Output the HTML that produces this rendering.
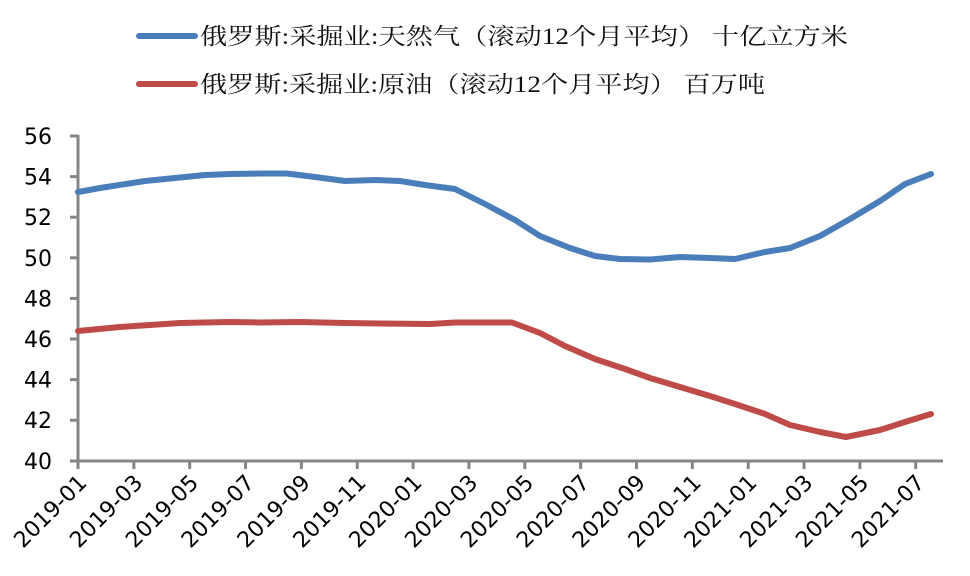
<!DOCTYPE html>
<html><head><meta charset="utf-8"><style>
html,body{margin:0;padding:0;background:#fff;}
svg{display:block;}
.t{font-family:"DejaVu Sans","Liberation Sans",sans-serif;font-size:22px;fill:#000;}
.lg{font-family:"Liberation Serif","Noto Serif CJK SC",serif;font-size:23px;fill:#111;}
</style></head><body>
<svg width="970" height="576" viewBox="0 0 970 576">
<rect width="970" height="576" fill="#fff"/>
<line x1="139" y1="36" x2="195" y2="36" stroke="#4a7ebb" stroke-width="6" stroke-linecap="round"/>
<text class="lg" x="200" y="44" textLength="648" lengthAdjust="spacingAndGlyphs">俄罗斯:采掘业:天然气（滚动12个月平均） 十亿立方米</text>
<line x1="139" y1="84" x2="195" y2="84" stroke="#be4b48" stroke-width="6" stroke-linecap="round"/>
<text class="lg" x="200" y="92" textLength="565" lengthAdjust="spacingAndGlyphs">俄罗斯:采掘业:原油（滚动12个月平均） 百万吨</text>
<g stroke="#868686" stroke-width="3" fill="none">
<line x1="78" y1="135" x2="78" y2="461"/>
<line x1="70" y1="461" x2="943" y2="461"/>
<line x1="70" y1="136" x2="78" y2="136"/><line x1="70" y1="176.6" x2="78" y2="176.6"/>
<line x1="70" y1="217.2" x2="78" y2="217.2"/><line x1="70" y1="257.8" x2="78" y2="257.8"/>
<line x1="70" y1="298.4" x2="78" y2="298.4"/><line x1="70" y1="339" x2="78" y2="339"/>
<line x1="70" y1="379.6" x2="78" y2="379.6"/><line x1="70" y1="420.2" x2="78" y2="420.2"/>
</g>
<g stroke="#868686" stroke-width="3" id="xt"></g>
<g class="t" text-anchor="end">
<text x="52" y="144">56</text><text x="52" y="184.6">54</text><text x="52" y="225.2">52</text>
<text x="52" y="265.8">50</text><text x="52" y="306.4">48</text><text x="52" y="347">46</text>
<text x="52" y="387.6">44</text><text x="52" y="428.2">42</text><text x="52" y="468.8">40</text>
</g>
<g id="xl" class="t" text-anchor="end"></g>
<polyline fill="none" stroke="#4a7ebb" stroke-width="6" stroke-linejoin="round" stroke-linecap="round" points="78,192 100,188 145,181 175,178 205,175 230,174 260,173.5 287,173.5 315,177 345,181 375,180 400,181 425,185 455,189 485,204 515,220 540,236 570,248 595,256 620,259 650,259.5 680,257 710,258 735,259 765,252 790,248 820,236 850,219 880,201 905,184 931,174"/>
<polyline fill="none" stroke="#be4b48" stroke-width="6" stroke-linejoin="round" stroke-linecap="round" points="78,331 120,327 150,325 180,323 230,322 260,322.5 300,322 345,323 380,323.5 430,324 455,322.5 485,322.5 512,322.5 540,333 565,346 595,359 625,369 650,378 680,387 710,396 735,404 765,414 790,425 820,432 846,437 880,430 905,422 931,414"/>
</svg>
<script>
var labs=["2019-01","2019-03","2019-05","2019-07","2019-09","2019-11","2020-01","2020-03","2020-05","2020-07","2020-09","2020-11","2021-01","2021-03","2021-05","2021-07"];
var xt=document.getElementById('xt'),xl=document.getElementById('xl'),ns="http://www.w3.org/2000/svg";
labs.forEach(function(l,i){var x=78+i*55.85;
var ln=document.createElementNS(ns,'line');ln.setAttribute('x1',x);ln.setAttribute('x2',x);ln.setAttribute('y1',461);ln.setAttribute('y2',469);xt.appendChild(ln);
var t=document.createElementNS(ns,'text');t.setAttribute('transform','translate('+(x+10)+',484) rotate(-45)');t.textContent=l;xl.appendChild(t);});
</script>
</body></html>
